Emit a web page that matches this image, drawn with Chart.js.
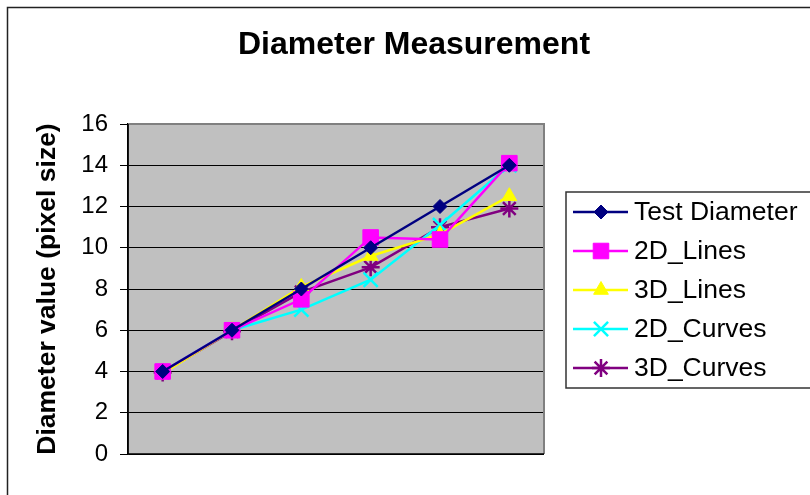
<!DOCTYPE html>
<html>
<head>
<meta charset="utf-8">
<script src="https://cdn.jsdelivr.net/npm/chart.js@4"></script>
<style>
html,body{margin:0;padding:0;background:#fff;}
#wrap{width:810px;height:495px;position:relative;}
</style>
</head>
<body>
<div id="wrap"><canvas id="c" width="810" height="495"></canvas></div>
<script>
const chartTitle = "Diameter Measurement";
const yAxisTitle = "Diameter value (pixel size)";
const categories = ["", "", "", "", "", ""];
const yTicks = [0, 2, 4, 6, 8, 10, 12, 14, 16];
const testDiameter = [4, 6, 8, 10, 12, 14];
const lines2D = [4, 6, 7.5, 10.5, 10.4, 14.1];
const lines3D = [3.9, 6, 8.1, 9.6, 10.65, 12.5];
const curves2D = [4, 6, 7, 8.45, 11.1, 14];
const curves3D = [3.95, 5.95, 7.85, 9.05, 11, 11.9];

const FONT = 'Arial, "Liberation Sans", sans-serif';

function ds(label, data, color, style, radius, extra) {
  return Object.assign({
    label, data,
    borderColor: color, backgroundColor: color,
    pointBackgroundColor: color, pointBorderColor: color,
    pointStyle: style, pointRadius: radius, pointHoverRadius: radius,
    borderWidth: 2.5, pointBorderWidth: 1, tension: 0, fill: false
  }, extra || {});
}

const datasets = [
  ds("Test Diameter", testDiameter, "#000080", "rectRot", 7),
  ds("2D_Lines", lines2D, "#FF00FF", "rect", 11),
  ds("3D_Lines", lines3D, "#FFFF00", "triangle", 8.5),
  ds("2D_Curves", curves2D, "#00FFFF", "crossRot", 10, {pointBorderWidth: 2.5}),
  ds("3D_Curves", curves3D, "#800080", "star", 9, {pointBorderWidth: 2.5})
];

const decor = {
  id: 'decor',
  beforeDraw(chart) {
    const {ctx, chartArea: a} = chart;
    ctx.save();
    ctx.fillStyle = '#fff';
    ctx.fillRect(0, 0, chart.width, chart.height);
    ctx.strokeStyle = '#222';
    ctx.lineWidth = 1.5;
    ctx.strokeRect(7.5, 7.5, 900, 600);
    ctx.fillStyle = '#C0C0C0';
    ctx.fillRect(a.left, a.top, a.right - a.left, a.bottom - a.top);
    ctx.restore();
  },
  afterDraw(chart) {
    const {ctx, chartArea: a} = chart;
    ctx.save();
    ctx.strokeStyle = '#808080';
    ctx.lineWidth = 2;
    ctx.beginPath();
    ctx.moveTo(a.left, a.top); ctx.lineTo(a.right, a.top); ctx.lineTo(a.right, a.bottom);
    ctx.stroke();
    ctx.strokeStyle = '#000';
    ctx.lineWidth = 1.5;
    ctx.beginPath();
    ctx.moveTo(a.left, a.top); ctx.lineTo(a.left, a.bottom); ctx.lineTo(a.right, a.bottom);
    ctx.stroke();
    ctx.fillStyle = '#000';
    ctx.font = 'bold 32px ' + FONT;
    ctx.textAlign = 'center';
    ctx.textBaseline = 'middle';
    ctx.fillText(chartTitle, 414, 45);
    ctx.strokeStyle = '#333';
    ctx.lineWidth = 1.5;
    ctx.strokeRect(566, 192, 300, 196);
    ctx.font = '26.5px ' + FONT;
    ctx.textAlign = 'left';
    chart.data.datasets.forEach((d, i) => {
      const y = 212 + i * 39;
      ctx.strokeStyle = d.borderColor;
      ctx.lineWidth = 2.5;
      ctx.beginPath(); ctx.moveTo(573, y); ctx.lineTo(628, y); ctx.stroke();
      ctx.fillStyle = d.pointBackgroundColor;
      ctx.strokeStyle = d.pointBorderColor;
      ctx.lineWidth = d.pointBorderWidth;
      Chart.helpers.drawPoint(ctx, {pointStyle: d.pointStyle, radius: d.pointRadius, borderWidth: d.pointBorderWidth, rotation: 0}, 601, y);
      ctx.fillStyle = '#000';
      ctx.fillText(d.label, 634, y + 1);
    });
    ctx.restore();
  }
};

new Chart(document.getElementById('c'), {
  type: 'line',
  data: {labels: categories, datasets},
  options: {
    responsive: false,
    animation: false,
    layout: {padding: {left: 0, top: 124, right: 266, bottom: 41}},
    plugins: {legend: {display: false}, title: {display: false}, tooltip: {enabled: false}},
    scales: {
      x: {display: false, offset: true},
      y: {
        min: 0, max: 16,
        afterFit(s) { s.width = 128; },
        afterBuildTicks(s) { s.ticks = yTicks.map(v => ({value: v})); },
        ticks: {color: '#000', font: {family: FONT, size: 24}, padding: 12},
        grid: {color: '#000', lineWidth: 1, tickLength: 8, drawTicks: true},
        border: {display: true, color: '#000', width: 1.5},
        title: {display: true, text: yAxisTitle, color: '#000', font: {family: FONT, size: 26.5, weight: 'bold'}, padding: {top: 32, bottom: 0}}
      }
    }
  },
  plugins: [decor]
});
</script>
</body>
</html>
